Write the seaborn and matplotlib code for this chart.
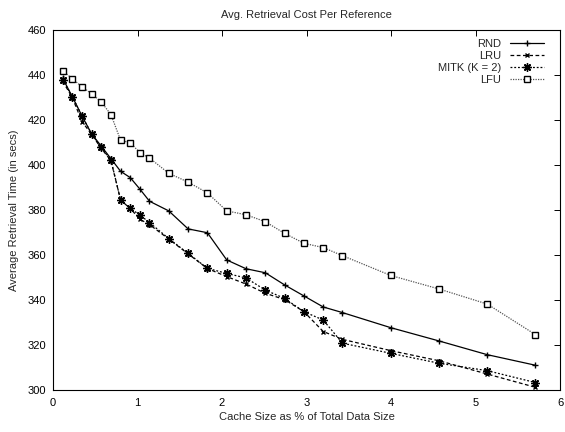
import numpy as np
import pandas as pd
import matplotlib
matplotlib.use("Agg")
import matplotlib.pyplot as plt
import seaborn as sns

# Data
cache_pct = [0.115, 0.228, 0.343, 0.457, 0.571, 0.686, 0.800, 0.914, 1.028, 1.142,
             1.370, 1.599, 1.827, 2.056, 2.284, 2.513, 2.741, 2.970, 3.198, 3.426,
             3.997, 4.568, 5.139, 5.710]
rnd = [438.5, 430.4, 421.8, 413.8, 408.4, 402.8, 397.2, 394.4, 389.3, 383.9,
       379.6, 371.6, 369.9, 357.8, 353.9, 352.1, 346.7, 341.8, 336.9, 334.4,
       327.7, 321.8, 315.7, 311.0]
lru = [437.2, 430.0, 419.3, 413.6, 407.4, 401.9, 384.4, 380.7, 375.9, 373.5,
       367.1, 360.5, 354.0, 350.4, 347.1, 343.0, 340.2, 334.8, 326.0, 322.5,
       317.5, 313.0, 307.1, 301.2]
mitk = [438.0, 430.4, 421.8, 413.8, 407.9, 402.2, 384.4, 380.7, 377.8, 374.4,
        367.3, 360.7, 354.1, 351.8, 349.8, 344.4, 340.7, 334.8, 331.1, 320.8,
        316.3, 311.9, 308.6, 303.3]
lfu = [441.8, 438.4, 434.7, 431.7, 428.0, 422.4, 411.0, 409.9, 405.5, 403.1,
       396.3, 392.4, 387.6, 379.6, 377.9, 374.8, 369.6, 365.2, 363.3, 359.7,
       350.9, 344.9, 338.2, 324.6]
labels = ["RND", "LRU", "MITK (K = 2)", "LFU"]
x_ticks = [0, 1, 2, 3, 4, 5, 6]
y_ticks = [300, 320, 340, 360, 380, 400, 420, 440, 460]

sns.set_style("white")
plt.rcParams["font.family"] = ["Liberation Sans", "DejaVu Sans"]
FS = 8
plt.rcParams["font.size"] = FS

fig = plt.figure(figsize=(5.65, 4.32), dpi=100)
ax = fig.add_axes([53 / 565, 1 - 390 / 432, 507 / 565, 360 / 432])

series = [rnd, lru, mitk, lfu]
styles = [
    dict(linestyle="-", marker="+", markersize=5, mew=1.0, mfc="black"),
    dict(linestyle=(0, (3, 2)), marker="x", markersize=3.5, mew=1.0, mfc="black"),
    dict(linestyle=(0, (1.5, 1.5)), marker=(8, 2, 0), markersize=6, mew=1.0, mfc="black"),
    dict(linestyle=(0, (1, 1)), marker="s", markersize=4.5, mew=1.0, mfc="white"),
]
line_colors = ["black", "black", "black", "#555555"]
for vals, lab, st, lc in zip(series, labels, styles, line_colors):
    df = pd.DataFrame({"x": cache_pct, "y": vals})
    sns.lineplot(data=df, x="x", y="y", ax=ax, color=lc, label=lab,
                 linewidth=0.9, mec="black", **st)

ax.set_xlim(0, 6)
ax.set_ylim(300, 460)
ax.set_xticks(x_ticks)
ax.set_yticks(y_ticks)
ax.tick_params(direction="in", top=True, right=True, length=4, width=0.7,
               labelsize=FS, colors="black")
ax.tick_params(axis="x", pad=6)
ax.tick_params(axis="y", pad=5)
for s in ax.spines.values():
    s.set_linewidth(0.8)
    s.set_color("black")
ax.set_xlabel("Cache Size as % of Total Data Size", fontsize=FS, labelpad=3)
ax.set_ylabel("Average Retrieval Time (in secs)", fontsize=FS, labelpad=6)
ax.set_title("Avg. Retrieval Cost Per Reference", fontsize=FS, pad=9)

leg = ax.legend(loc="upper right", bbox_to_anchor=(0.985, 1.0), frameon=False,
                markerfirst=False, handlelength=3.0, handletextpad=0.8,
                labelspacing=0.18, fontsize=FS, borderaxespad=0.4)

fig.savefig("out.png", dpi=100)
